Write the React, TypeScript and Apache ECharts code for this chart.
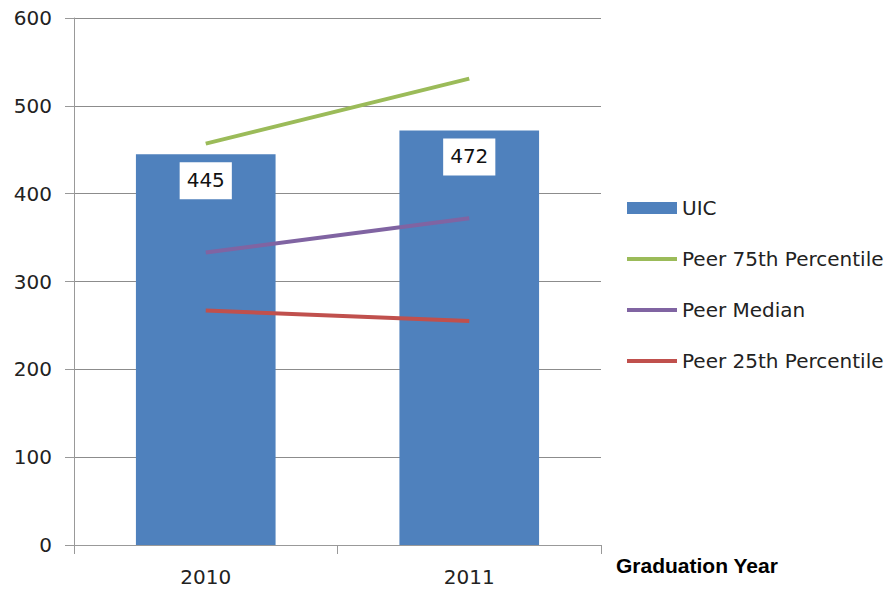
import React, { useEffect, useRef } from "react";
import * as echarts from "echarts";

const categories = ["2010", "2011"];
const uic = [445, 472];
const peer75 = [457, 531];
const peerMedian = [333, 372];
const peer25 = [267, 255];
const yTicks = { min: 0, max: 600, interval: 100 };

const FONT = "DejaVu Sans";

export default function App() {
  const ref = useRef<HTMLDivElement>(null);
  useEffect(() => {
    document.body.style.margin = "0";
    const chart = echarts.init(ref.current!, null, { renderer: "svg" });
    const lineSeries = (name: string, data: number[], color: string) => ({
      name,
      type: "line",
      data,
      symbol: "circle",
      showSymbol: false,
      lineStyle: { color, width: 4 },
      itemStyle: { color },
      z: 3,
    });
    const lineLegend = (name: string, color: string) => ({
      name,
      itemStyle: { opacity: 0 },
      lineStyle: { color, width: 4, opacity: 1 },
    });
    chart.setOption({
      animation: false,
      backgroundColor: "#ffffff",
      textStyle: { fontFamily: FONT },
      grid: { left: 74, right: 289, top: 18, bottom: 45, containLabel: false },
      legend: {
        orient: "vertical",
        left: 625,
        top: 198,
        padding: 0,
        itemWidth: 50,
        itemHeight: 12,
        itemGap: 31,
        itemStyle: { borderWidth: 0 },
        textStyle: { fontSize: 20, color: "#222", fontFamily: FONT, lineHeight: 20 },
        data: [
          { name: "UIC", icon: "rect" },
          lineLegend("Peer 75th Percentile", "#9BBB59"),
          lineLegend("Peer Median", "#8064A2"),
          lineLegend("Peer 25th Percentile", "#C0504D"),
        ],
      },
      xAxis: {
        type: "category",
        data: categories,
        boundaryGap: true,
        axisLine: { lineStyle: { color: "#999", width: 1 } },
        axisTick: { show: true, length: 9, lineStyle: { color: "#999" } },
        axisLabel: { fontSize: 20, color: "#222", margin: 22, fontFamily: FONT },
        name: "Graduation Year",
        nameLocation: "end",
        nameGap: 15,
        nameTextStyle: {
          fontSize: 21,
          fontWeight: "bold",
          color: "#000",
          verticalAlign: "top",
          padding: [10, 0, 0, 0],
          fontFamily: "Liberation Sans",
        },
      },
      yAxis: {
        type: "value",
        min: yTicks.min,
        max: yTicks.max,
        interval: yTicks.interval,
        axisLine: { show: true, lineStyle: { color: "#999", width: 1 } },
        axisTick: { show: true, length: 9, lineStyle: { color: "#999" } },
        axisLabel: { fontSize: 20, color: "#222", margin: 22, fontFamily: FONT },
        splitLine: { lineStyle: { color: "#8c8c8c", width: 1 } },
      },
      series: [
        {
          name: "UIC",
          type: "bar",
          data: uic,
          barWidth: "53%",
          itemStyle: { color: "#4F81BD" },
          label: {
            show: true,
            position: "insideTop",
            distance: 8,
            backgroundColor: "#ffffff",
            padding: [8, 7, 9, 7],
            fontSize: 20,
            lineHeight: 20,
            color: "#111",
            fontFamily: FONT,
          },
          z: 2,
        },
        lineSeries("Peer 75th Percentile", peer75, "#9BBB59"),
        lineSeries("Peer Median", peerMedian, "#8064A2"),
        lineSeries("Peer 25th Percentile", peer25, "#C0504D"),
      ],
    });
    return () => chart.dispose();
  }, []);
  return <div ref={ref} style={{ width: 890, height: 590 }} />;
}
